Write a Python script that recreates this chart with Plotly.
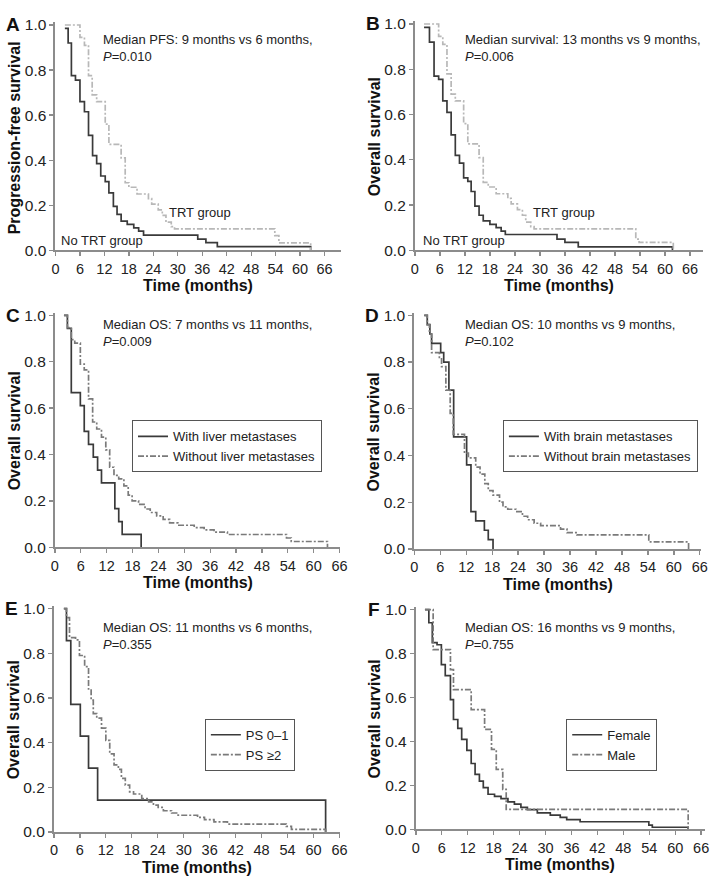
import plotly.graph_objects as go

W, H = 715, 883
FONT = "Liberation Sans, Arial, sans-serif"

# ---------------- data (time in months, survival proportion) ----------------
A_notrt_t = [2.3, 3.1, 3.9, 4.9, 6.0, 7.1, 8.1, 9.1, 10.1, 11.1, 12.2, 13.1, 14.2, 15.1, 16.1, 17.6, 19.2, 20.4, 21.6, 34.9, 36.9, 39.7, 62.6]
A_notrt_s = [0.985, 0.92, 0.775, 0.755, 0.66, 0.615, 0.51, 0.42, 0.385, 0.33, 0.305, 0.255, 0.195, 0.16, 0.13, 0.115, 0.10, 0.085, 0.068, 0.05, 0.034, 0.017, 0.0]
A_trt_t = [2.3, 6.0, 7.1, 8.1, 9.0, 10.1, 12.2, 13.1, 16.1, 17.1, 18.0, 20.0, 22.8, 23.6, 25.2, 26.2, 27.1, 28.4, 29.2, 53.8, 54.8, 62.6]
A_trt_s = [1.0, 0.945, 0.91, 0.775, 0.69, 0.66, 0.56, 0.47, 0.41, 0.30, 0.28, 0.25, 0.23, 0.205, 0.18, 0.155, 0.125, 0.105, 0.095, 0.065, 0.033, 0.0]

B_notrt_t = [2.2, 3.5, 4.6, 5.7, 6.7, 7.7, 8.7, 9.7, 10.7, 11.7, 12.7, 13.5, 14.4, 15.4, 16.4, 18.0, 19.5, 20.7, 21.7, 34.1, 36.0, 39.2, 61.8]
B_notrt_s = [0.985, 0.92, 0.77, 0.755, 0.66, 0.61, 0.51, 0.42, 0.385, 0.32, 0.305, 0.26, 0.195, 0.155, 0.13, 0.115, 0.10, 0.085, 0.07, 0.05, 0.035, 0.015, 0.0]
B_trt_t = [2.2, 5.7, 6.7, 7.7, 8.7, 9.7, 11.7, 12.7, 15.4, 16.4, 17.6, 19.5, 22.3, 23.1, 24.6, 25.8, 26.6, 27.8, 28.6, 53.0, 53.8, 62.0]
B_trt_s = [1.0, 0.945, 0.91, 0.78, 0.69, 0.66, 0.56, 0.47, 0.41, 0.30, 0.28, 0.25, 0.23, 0.205, 0.18, 0.155, 0.125, 0.105, 0.095, 0.05, 0.035, 0.0]

C_with_t = [2.1, 2.9, 3.8, 5.9, 6.8, 7.8, 8.9, 9.9, 10.8, 13.9, 14.8, 15.6, 20.0]
C_with_s = [1.0, 0.944, 0.667, 0.611, 0.5, 0.444, 0.389, 0.333, 0.278, 0.167, 0.111, 0.056, 0.0]
C_without_t = [2.1, 2.9, 3.8, 4.6, 5.9, 6.8, 7.8, 8.75, 9.7, 10.8, 11.8, 12.7, 13.7, 14.8, 16.0, 17.0, 17.9, 19.4, 20.9, 22.1, 23.6, 25.1, 26.6, 28.5, 32.3, 34.6, 36.9, 40.0, 53.7, 54.8, 63.2]
C_without_s = [1.0, 0.947, 0.895, 0.88, 0.79, 0.765, 0.64, 0.54, 0.51, 0.475, 0.42, 0.345, 0.31, 0.295, 0.265, 0.225, 0.20, 0.185, 0.165, 0.15, 0.135, 0.12, 0.105, 0.095, 0.085, 0.075, 0.065, 0.055, 0.04, 0.025, 0.0]

D_with_t = [2.3, 3.0, 3.6, 4.0, 6.1, 6.8, 8.0, 9.1, 12.1, 13.1, 14.2, 16.2, 17.1, 18.2]
D_with_s = [1.0, 0.96, 0.92, 0.88, 0.84, 0.80, 0.68, 0.48, 0.36, 0.16, 0.12, 0.08, 0.04, 0.0]
D_without_t = [2.3, 3.0, 3.5, 4.0, 5.8, 6.3, 7.3, 8.3, 9.0, 11.6, 12.5, 14.2, 15.2, 16.3, 17.1, 18.2, 19.7, 20.5, 21.6, 23.5, 25.0, 26.2, 27.7, 29.2, 33.8, 35.3, 37.6, 54.2, 63.4]
D_without_s = [1.0, 0.96, 0.92, 0.84, 0.82, 0.78, 0.68, 0.58, 0.49, 0.41, 0.39, 0.35, 0.32, 0.28, 0.25, 0.23, 0.20, 0.18, 0.17, 0.16, 0.14, 0.125, 0.11, 0.10, 0.085, 0.07, 0.06, 0.03, 0.0]

E_ps01_t = [2.3, 2.9, 3.9, 6.1, 8.0, 10.1, 62.8]
E_ps01_s = [1.0, 0.857, 0.571, 0.429, 0.286, 0.143, 0.0]
E_ps2_t = [2.3, 2.9, 3.6, 5.0, 5.9, 7.1, 8.0, 8.6, 9.1, 9.9, 11.0, 12.0, 12.9, 13.9, 14.9, 15.6, 16.5, 17.5, 18.4, 20.3, 21.9, 23.0, 24.1, 25.3, 27.2, 28.7, 33.2, 34.8, 37.0, 40.1, 53.7, 54.9, 62.8]
E_ps2_s = [1.0, 0.96, 0.87, 0.86, 0.79, 0.74, 0.64, 0.59, 0.53, 0.51, 0.465, 0.41, 0.35, 0.30, 0.28, 0.24, 0.21, 0.18, 0.17, 0.15, 0.135, 0.12, 0.11, 0.095, 0.085, 0.075, 0.065, 0.055, 0.045, 0.035, 0.025, 0.012, 0.0]

F_female_t = [2.1, 3.0, 3.8, 4.9, 5.9, 6.8, 8.0, 8.7, 9.7, 10.6, 11.8, 12.8, 13.7, 14.7, 15.6, 16.7, 18.2, 19.7, 21.3, 22.8, 24.3, 25.8, 28.1, 31.1, 33.4, 34.9, 38.0, 53.9, 54.7, 63.0]
F_female_s = [1.0, 0.94, 0.85, 0.84, 0.75, 0.70, 0.59, 0.50, 0.46, 0.41, 0.36, 0.30, 0.25, 0.22, 0.19, 0.16, 0.15, 0.14, 0.125, 0.115, 0.10, 0.09, 0.075, 0.065, 0.055, 0.045, 0.035, 0.02, 0.01, 0.0]
F_male_t = [2.1, 4.0, 8.0, 8.7, 12.8, 15.9, 17.5, 18.6, 20.1, 20.9, 63.0]
F_male_s = [1.0, 0.818, 0.727, 0.636, 0.545, 0.455, 0.364, 0.273, 0.182, 0.091, 0.0]

x_ticks = [0, 6, 12, 18, 24, 30, 36, 42, 48, 54, 60, 66]
y_ticks = [0.0, 0.2, 0.4, 0.6, 0.8, 1.0]
y_tick_text = ["0.0", "0.2", "0.4", "0.6", "0.8", "1.0"]

# ---------------- layout geometry (pixels) ----------------
panels = [
    dict(letter="A", left=52.3, ppm=4.14, xmax=70.0, p0=248.3, p1=19.3,
         ytitle="Progression-free survival",
         l1="Median PFS: 9 months vs 6 months,", l2="<i>P</i>=0.010",
         tx=99, ty=34.5),
    dict(letter="B", left=417.3, ppm=4.233, xmax=69.1, p0=248.3, p1=18.3,
         ytitle="Overall survival",
         l1="Median survival: 13 months vs 9 months,", l2="<i>P</i>=0.006",
         tx=466, ty=34.5),
    dict(letter="C", left=51.7, ppm=4.38, xmax=66.2, p0=550.0, p1=314.3,
         ytitle="Overall survival",
         l1="Median OS: 7 months vs 11 months,", l2="<i>P</i>=0.009",
         tx=99, ty=324),
    dict(letter="D", left=416.7, ppm=4.394, xmax=66.3, p0=551.7, p1=314.3,
         ytitle="Overall survival",
         l1="Median OS: 10 months vs 9 months,", l2="<i>P</i>=0.102",
         tx=466, ty=324),
    dict(letter="E", left=50.7, ppm=4.394, xmax=66.2, p0=839.3, p1=612.3,
         ytitle="Overall survival",
         l1="Median OS: 11 months vs 6 months,", l2="<i>P</i>=0.355",
         tx=99, ty=632),
    dict(letter="F", left=418.3, ppm=4.39, xmax=66.8, p0=836.7, p1=613.3,
         ytitle="Overall survival",
         l1="Median OS: 16 months vs 9 months,", l2="<i>P</i>=0.755",
         tx=466, ty=632),
]

YTOP = 1.012
DARK = "#3a3a3a"
LIGHT = "#b8b8b8"
MID = "#7a7a7a"
AXIS = "#8c8c8c"
DASHDOT = "6px,2px,2px,2px"

series = [
    (0, A_notrt_t, A_notrt_s, "No TRT group", DARK, "solid", None),
    (0, A_trt_t, A_trt_s, "TRT group", LIGHT, DASHDOT, None),
    (1, B_notrt_t, B_notrt_s, "No TRT group", DARK, "solid", None),
    (1, B_trt_t, B_trt_s, "TRT group", LIGHT, DASHDOT, None),
    (2, C_with_t, C_with_s, "With liver metastases", DARK, "solid", "legend"),
    (2, C_without_t, C_without_s, "Without liver metastases", MID, DASHDOT, "legend"),
    (3, D_with_t, D_with_s, "With brain metastases", DARK, "solid", "legend2"),
    (3, D_without_t, D_without_s, "Without brain metastases", MID, DASHDOT, "legend2"),
    (4, E_ps01_t, E_ps01_s, "PS 0\u20131", DARK, "solid", "legend3"),
    (4, E_ps2_t, E_ps2_s, "PS \u22652", MID, DASHDOT, "legend3"),
    (5, F_female_t, F_female_s, "Female", DARK, "solid", "legend4"),
    (5, F_male_t, F_male_s, "Male", MID, DASHDOT, "legend4"),
]

fig = go.Figure()
for pi, t, s, name, color, dash, leg in series:
    n = "" if pi == 0 else str(pi + 1)
    kw = dict(x=t, y=s, mode="lines", line_shape="hv", name=name,
              line=dict(color=color, width=1.7, dash=dash),
              xaxis="x" + n, yaxis="y" + n, hoverinfo="skip")
    if leg:
        kw["legend"] = leg
        kw["showlegend"] = True
    else:
        kw["showlegend"] = False
    fig.add_trace(go.Scatter(**kw))

def px_x(p):
    return p / W

def px_y(p):
    return 1 - p / H

annotations = []
layout = {}
for i, P in enumerate(panels):
    n = "" if i == 0 else str(i + 1)
    x_right = P["left"] + P["ppm"] * P["xmax"]
    y_toppx = P["p0"] - YTOP * (P["p0"] - P["p1"])
    layout["xaxis" + n] = dict(
        domain=[px_x(P["left"]), px_x(x_right)], range=[0, P["xmax"]],
        anchor="y" + n, tickvals=x_ticks, ticks="outside", ticklen=4,
        tickwidth=1.3, tickcolor=AXIS, showline=True, linecolor=AXIS,
        linewidth=2, showgrid=False, zeroline=False,
        tickfont=dict(family=FONT, size=14.5, color="#222"), fixedrange=True)
    layout["yaxis" + n] = dict(
        domain=[px_y(P["p0"]), px_y(y_toppx)], range=[0, YTOP],
        anchor="x" + n, tickvals=y_ticks, ticktext=y_tick_text,
        ticks="outside", ticklen=4, tickwidth=1.3, tickcolor=AXIS,
        showline=True, linecolor=AXIS, linewidth=2, showgrid=False,
        zeroline=False, tickfont=dict(family=FONT, size=15.5, color="#222"),
        fixedrange=True)
    annotations.append(dict(text="<b>%s</b>" % P["letter"], xref="paper", yref="paper",
                            x=px_x(P["left"] - 43), y=px_y(P["p1"] - 13),
                            xanchor="center", yanchor="top", showarrow=False,
                            font=dict(family=FONT, size=19, color="#111")))
    annotations.append(dict(text="<b>Time (months)</b>", xref="paper", yref="paper",
                            x=px_x((P["left"] + x_right) / 2), y=px_y(P["p0"] + 36),
                            xanchor="center", yanchor="middle", showarrow=False,
                            font=dict(family=FONT, size=16, color="#111")))
    annotations.append(dict(text="<b>%s</b>" % P["ytitle"], xref="paper", yref="paper",
                            x=px_x(P["left"] - 41.5), y=px_y((P["p0"] + P["p1"]) / 2),
                            xanchor="center", yanchor="middle", textangle=-90,
                            showarrow=False, font=dict(family=FONT, size=16, color="#111")))
    annotations.append(dict(text=P["l1"], xref="paper", yref="paper",
                            x=px_x(P["tx"]), y=px_y(P["ty"]), xanchor="left",
                            yanchor="middle", showarrow=False,
                            font=dict(family=FONT, size=13, color="#222")))
    annotations.append(dict(text=P["l2"], xref="paper", yref="paper",
                            x=px_x(P["tx"]), y=px_y(P["ty"] + 16.5), xanchor="left",
                            yanchor="middle", showarrow=False,
                            font=dict(family=FONT, size=13, color="#222")))

for x0, txt, ypx in [(166, "TRT group", 210), (56, "No TRT group", 238),
                     (535, "TRT group", 210), (424, "No TRT group", 238)]:
    annotations.append(dict(text=txt, xref="paper", yref="paper", x=px_x(x0),
                            y=px_y(ypx), xanchor="left", yanchor="middle",
                            showarrow=False,
                            font=dict(family=FONT, size=13, color="#222")))

def legend_box(xpx, ypx):
    return dict(x=px_x(xpx), y=px_y(ypx), xanchor="left", yanchor="top",
                bgcolor="white", bordercolor="#555", borderwidth=1,
                font=dict(family=FONT, size=13, color="#222"),
                tracegroupgap=0, itemwidth=30, xref="paper", yref="paper")

layout["legend"] = legend_box(130, 421)
layout["legend2"] = legend_box(506.7, 421)
layout["legend3"] = legend_box(204, 724.3)
layout["legend4"] = legend_box(571, 724.3)

fig.update_layout(width=W, height=H, margin=dict(l=0, r=0, t=0, b=0),
                  paper_bgcolor="white", plot_bgcolor="white",
                  font=dict(family=FONT), annotations=annotations, **layout)

fig.write_html("out.html",
               config={"displayModeBar": False, "staticPlot": True},
               post_script="document.body.style.margin='0px';document.body.style.overflow='hidden';")
